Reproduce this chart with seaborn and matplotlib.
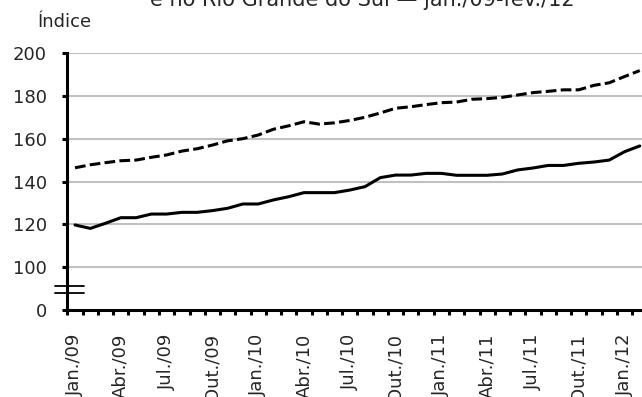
import numpy as np
import pandas as pd
import matplotlib
matplotlib.use("Agg")
import matplotlib.pyplot as plt
import matplotlib.transforms as mtransforms
import seaborn as sns

# Monthly index, jan./09 - fev./12
meses = ["Jan./09", "Fev./09", "Mar./09", "Abr./09", "Mai./09", "Jun./09",
         "Jul./09", "Ago./09", "Set./09", "Out./09", "Nov./09", "Dez./09",
         "Jan./10", "Fev./10", "Mar./10", "Abr./10", "Mai./10", "Jun./10",
         "Jul./10", "Ago./10", "Set./10", "Out./10", "Nov./10", "Dez./10",
         "Jan./11", "Fev./11", "Mar./11", "Abr./11", "Mai./11", "Jun./11",
         "Jul./11", "Ago./11", "Set./11", "Out./11", "Nov./11", "Dez./11",
         "Jan./12", "Fev./12"]

brasil = [146.4, 147.8, 148.8, 149.7, 150.0, 151.3, 152.4, 154.2, 155.3, 157.0,
          159.0, 160.0, 161.7, 164.4, 166.0, 167.9, 166.8, 167.4, 168.5, 170.0,
          172.0, 174.2, 174.9, 175.9, 176.8, 177.1, 178.4, 178.7, 179.3, 180.4,
          181.5, 182.1, 182.8, 182.8, 184.9, 186.1, 189.0, 191.8]

rs = [119.7, 118.1, 120.5, 123.1, 123.1, 124.8, 124.8, 125.6, 125.6, 126.4,
      127.5, 129.5, 129.5, 131.4, 132.9, 134.8, 134.8, 134.8, 136.0, 137.6,
      141.8, 143.0, 143.0, 143.8, 143.8, 142.9, 142.9, 142.9, 143.5, 145.4,
      146.3, 147.5, 147.5, 148.5, 149.1, 150.0, 153.9, 156.6]

y_ticks = [80, 100, 120, 140, 160, 180, 200]
y_tick_labels = ["0", "100", "120", "140", "160", "180", "200"]

sns.set_theme(style="white")
plt.rcParams["font.family"] = ["DejaVu Sans"]

FS = 13

df = pd.DataFrame({"mes": np.arange(len(meses)), "Brasil": brasil, "RS": rs})

fig = plt.figure(figsize=(6.42, 3.97), dpi=100)
# axes run past the right edge of the canvas
ax = fig.add_axes([67.4 / 642, 87 / 397, 580 / 642, 257 / 397])

for y in y_ticks[1:]:
    ax.axhline(y, color="#c0c0c0", lw=1.5, zorder=0)

sns.lineplot(data=df, x="mes", y="Brasil", ax=ax, color="black", lw=2.2,
             zorder=3)
ax.lines[-1].set_dashes((3.5, 1.4))
sns.lineplot(data=df, x="mes", y="RS", ax=ax, color="black", lw=2.2, zorder=3)

ax.set_xlim(-0.5, len(meses) - 0.5)
ax.set_ylim(80, 200)
ax.set_xlabel("")
ax.set_ylabel("")

ax.set_yticks(y_ticks)
ax.set_yticklabels(y_tick_labels)
ax.set_xticks(np.arange(0, len(meses), 3))
ax.set_xticklabels(meses[::3], rotation=90, va="top", ha="center")
ax.set_xticks(np.arange(-0.5, len(meses), 1), minor=True)

ax.tick_params(axis="y", which="major", direction="out", length=3.6, width=2.2,
               color="black", labelsize=FS, pad=11, left=True)
ax.tick_params(axis="x", which="major", length=0, labelsize=FS, pad=17)
ax.tick_params(axis="x", which="minor", direction="out", length=3.6, width=2.2,
               color="black", bottom=True)

for side in ["top", "right"]:
    ax.spines[side].set_visible(False)
for side in ["left", "bottom"]:
    ax.spines[side].set_color("black")
    ax.spines[side].set_linewidth(2.2)

# axis break marks between 0 and 100
trans = mtransforms.blended_transform_factory(fig.transFigure, ax.transData)
for yb in (91.2, 87.9):
    ax.plot([55 / 642, 84 / 642], [yb, yb], color="black", lw=1.3,
            transform=trans, clip_on=False, zorder=5)

fig.text(38 / 642, (397 - 27) / 397, "Índice", fontsize=FS, va="baseline",
         ha="left")
fig.text(362 / 642, (397 - 5.5) / 397, "e no Rio Grande do Sul — jan./09-fev./12",
         fontsize=15, va="baseline", ha="center")

fig.savefig("out.png", dpi=100)
